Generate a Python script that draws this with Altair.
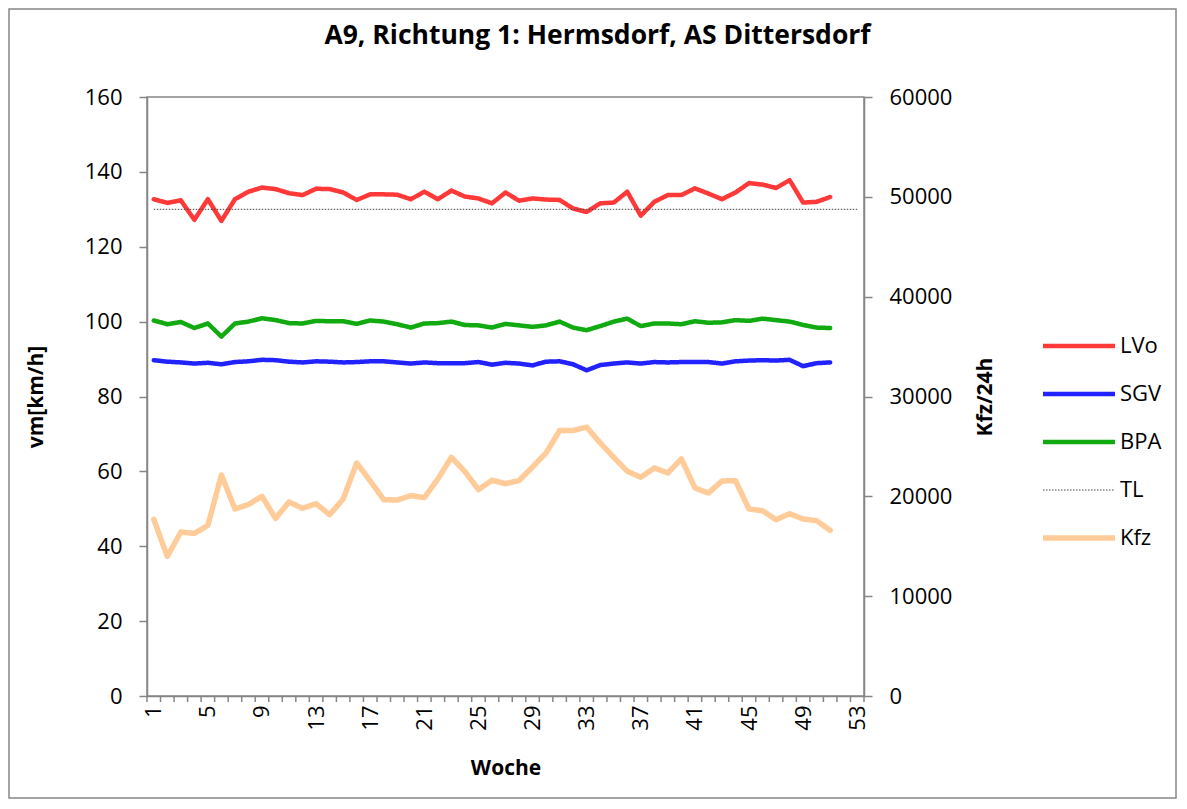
import altair as alt
import pandas as pd

# ---------------- data ----------------
weeks = list(range(1, 52))
lvo = [132.7, 131.7, 132.4, 127.2, 132.7, 126.9, 132.7, 134.7, 135.8, 135.4,
       134.3, 133.8, 135.5, 135.4, 134.5, 132.5, 134.0, 134.0, 133.9, 132.7,
       134.7, 132.7, 135.0, 133.4, 132.9, 131.6, 134.5, 132.3, 132.9, 132.6,
       132.5, 130.2, 129.3, 131.6, 131.8, 134.7, 128.3, 132.0, 133.8, 133.8,
       135.6, 134.2, 132.7, 134.5, 137.0, 136.6, 135.7, 137.8, 131.8, 132.0, 133.3]
sgv = [89.7, 89.3, 89.1, 88.8, 89.0, 88.6, 89.2, 89.4, 89.8, 89.7,
       89.3, 89.1, 89.4, 89.3, 89.1, 89.2, 89.4, 89.4, 89.1, 88.8,
       89.1, 88.9, 88.9, 88.9, 89.2, 88.5, 89.0, 88.8, 88.3, 89.3,
       89.4, 88.6, 87.0, 88.4, 88.8, 89.1, 88.8, 89.2, 89.1, 89.2,
       89.2, 89.2, 88.8, 89.4, 89.6, 89.7, 89.6, 89.8, 88.1, 88.9, 89.1]
bpa = [100.3, 99.3, 99.9, 98.3, 99.5, 96.0, 99.5, 100.0, 100.9, 100.4,
       99.6, 99.5, 100.2, 100.1, 100.1, 99.4, 100.3, 100.0, 99.3, 98.4,
       99.5, 99.6, 100.0, 99.1, 99.0, 98.4, 99.4, 99.0, 98.6, 99.0,
       100.0, 98.4, 97.7, 98.8, 100.0, 100.8, 98.8, 99.5, 99.5, 99.3,
       100.1, 99.7, 99.8, 100.4, 100.2, 100.8, 100.4, 100.0, 99.1, 98.4, 98.3]
kfz = [17700, 13980, 16420, 16290, 17090, 22140, 18730, 19190, 20000, 17790,
       19430, 18800, 19260, 18160, 19730, 23340, 21540, 19670, 19630, 20070,
       19870, 21740, 23910, 22480, 20670, 21610, 21270, 21570, 22940, 24350,
       26590, 26590, 26920, 25350, 23910, 22510, 21910, 22840, 22340, 23750,
       20840, 20330, 21540, 21570, 18730, 18560, 17660, 18260, 17730, 17560, 16590]
tl_weeks = list(range(1, 54))
tl_value = 130

series_names = ["LVo", "SGV", "BPA", "TL", "Kfz"]
series_colors = ["#FF3838", "#2222FF", "#11AA11", "#444444", "#FFCC99"]
series_dash = [[1, 0], [1, 0], [1, 0], [1.5, 1.5], [1, 0]]

x_label_weeks = [1, 5, 9, 13, 17, 21, 25, 29, 33, 37, 41, 45, 49, 53]
x_boundaries = [w - 0.5 for w in range(1, 55)]
y_left_ticks = [0, 20, 40, 60, 80, 100, 120, 140, 160]
y_right_ticks = [0, 10000, 20000, 30000, 40000, 50000, 60000]

title_text = "A9, Richtung 1: Hermsdorf, AS Dittersdorf"

# ---------------- tables ----------------
rows = []
for name, vals in (("LVo", lvo), ("SGV", sgv), ("BPA", bpa)):
    rows += [{"Woche": w, "Wert": v, "Serie": name} for w, v in zip(weeks, vals)]
speed_df = pd.DataFrame(rows)
tl_df = pd.DataFrame({"Woche": tl_weeks, "Wert": [tl_value] * len(tl_weeks), "Serie": ["TL"] * len(tl_weeks)})
kfz_df = pd.DataFrame({"Woche": weeks, "Wert": kfz, "Serie": ["Kfz"] * len(weeks)})
tick_df = pd.DataFrame({"Woche": x_boundaries})

GRAY = "#868686"
FONT = "Open Sans"

x_scale = alt.Scale(domain=[0.5, 53.5], nice=False, zero=False)
x_axis = alt.Axis(
    title="Woche",
    values=x_label_weeks,
    format="d",
    labelAngle=270,
    labelAlign="right",
    labelBaseline="middle",
    labelOverlap=False,
    labelFlush=False,
    labelFontSize=22,
    labelPadding=9,
    ticks=False,
    titleFontSize=21,
    titlePadding=27,
)
x_enc = alt.X("Woche:Q", scale=x_scale, axis=x_axis)

legend = alt.Legend(
    title=None,
    orient="none",
    legendX=921,
    legendY=238,
    symbolType="M-2.4,0H2.4",
    symbolSize=900,
    symbolStrokeWidth={"expr": "datum.value == 'TL' ? 1 : (datum.value == 'Kfz' ? 5.5 : 4.5)"},
    labelFontSize=22,
    labelOffset=30,
    rowPadding=26,
    padding=0,
    labelColor="black",
)

color_enc = alt.Color("Serie:N", scale=alt.Scale(domain=series_names, range=series_colors), legend=legend)
dash_enc = alt.StrokeDash("Serie:N", scale=alt.Scale(domain=series_names, range=series_dash), legend=legend)

left_y_axis = alt.Axis(
    title="vm[km/h]",
    values=y_left_ticks,
    orient="left",
    labelFontSize=22,
    tickSize=8,
    labelPadding=17,
    titleFontSize=21,
    titlePadding=38,
)
left_y = alt.Y("Wert:Q", scale=alt.Scale(domain=[0, 160], nice=False), axis=left_y_axis)

speed = alt.Chart(speed_df).mark_line(strokeCap="round", strokeJoin="round", strokeWidth=4.5).encode(
    x=x_enc, y=left_y, color=color_enc, strokeDash=dash_enc
)
tl = alt.Chart(tl_df).mark_line(strokeWidth=1).encode(
    x=x_enc, y=left_y, color=color_enc, strokeDash=dash_enc
)
left = alt.layer(speed, tl)

right = alt.Chart(kfz_df).mark_line(strokeCap="round", strokeJoin="round", strokeWidth=5.5).encode(
    x=x_enc,
    y=alt.Y(
        "Wert:Q",
        scale=alt.Scale(domain=[0, 60000], nice=False),
        axis=alt.Axis(
            title="Kfz/24h",
            values=y_right_ticks,
            orient="right",
            format="d",
            labelFontSize=22,
            tickSize=8,
            labelPadding=17,
            titleFontSize=21,
            titlePadding=23,
            titleAngle=270,
            titleBaseline="top",
        ),
    ),
    color=color_enc,
    strokeDash=dash_enc,
)

x_ticks = alt.Chart(tick_df).mark_rule(color=GRAY, strokeWidth=1.5).encode(
    x=x_enc, y=alt.value(599), y2=alt.value(605)
)

frame = alt.Chart(alt.Data(values=[{"f": 1}])).mark_rect(
    fill="transparent", stroke=GRAY, strokeWidth=1.5
).encode(
    x=alt.value(-138), x2=alt.value(1029), y=alt.value(-88), y2=alt.value(701)
)

chart = (
    alt.layer(frame, x_ticks, left, right)
    .resolve_scale(y="independent")
    .properties(
        width=717,
        height=599,
        padding={"left": 139, "top": 89, "right": 314, "bottom": 104},
        autosize=alt.AutoSizeParams(type="none"),
        title=alt.TitleParams(
            title_text,
            fontSize=26.5,
            fontWeight="bold",
            font=FONT,
            anchor="middle",
            dx=92,
            offset=-62,
            baseline="alphabetic",
            color="black",
        ),
    )
    .configure(font=FONT)
    .configure_view(stroke=GRAY, strokeWidth=1.5)
    .configure_axis(
        domainColor=GRAY,
        domainWidth=1.5,
        tickColor=GRAY,
        tickWidth=1.5,
        grid=False,
        labelColor="black",
        titleColor="black",
        labelFont=FONT,
        titleFont=FONT,
        titleFontWeight="bold",
    )
    .configure_legend(labelFont=FONT)
)

chart.save("out.html", embed_options={"renderer": "svg", "actions": False})
